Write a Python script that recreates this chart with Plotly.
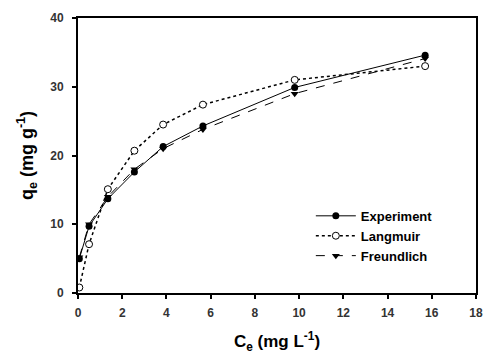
import plotly.graph_objects as go

# Equilibrium concentration (mg/L) and adsorption capacity (mg/g)
ce = [0.06, 0.5, 1.35, 2.55, 3.85, 5.65, 9.8, 15.7]
q_experiment = [5.0, 9.7, 13.7, 17.6, 21.3, 24.3, 29.9, 34.6]
q_langmuir = [0.8, 7.1, 15.1, 20.7, 24.5, 27.4, 31.0, 33.0]
q_freundlich = [5.2, 10.0, 14.0, 18.0, 21.0, 23.8, 29.0, 34.1]

x_ticks = [0, 2, 4, 6, 8, 10, 12, 14, 16, 18]
y_ticks = [0, 10, 20, 30, 40]

font_family = "Liberation Sans, Arial, sans-serif"

fig = go.Figure()
fig.add_trace(go.Scatter(
    x=ce, y=q_experiment, name="<b>Experiment</b>", mode="lines+markers",
    line=dict(color="black", width=1, dash="solid"),
    marker=dict(symbol="circle", size=7, color="black"),
))
fig.add_trace(go.Scatter(
    x=ce, y=q_langmuir, name="<b>Langmuir</b>", mode="lines+markers",
    line=dict(color="black", width=1.5, dash="dot"),
    marker=dict(symbol="circle", size=7, color="white",
                line=dict(width=1, color="black")),
))
fig.add_trace(go.Scatter(
    x=ce, y=q_freundlich, name="<b>Freundlich</b>", mode="lines+markers",
    line=dict(color="black", width=1, dash="dash"),
    marker=dict(symbol="triangle-down", size=7, color="black"),
))

axis_common = dict(
    showgrid=False, zeroline=False, showline=True, linecolor="black",
    linewidth=2, mirror=True, ticks="outside", tickcolor="black",
    ticklen=4, tickwidth=1.5,
    tickfont=dict(family=font_family, size=12, color="#333333"),
)

fig.update_xaxes(
    range=[0, 18], tickvals=x_ticks,
    ticktext=[f"<b>{v}</b>" for v in x_ticks],
    ticklabelstandoff=4,
    title=dict(text="<b>C<sub>e</sub> (mg L<sup>-1</sup>)</b>",
               font=dict(family=font_family, size=17, color="black"),
               standoff=16),
    **axis_common,
)
fig.update_yaxes(
    range=[0, 40], tickvals=y_ticks,
    ticktext=[f"<b>{v}</b>" for v in y_ticks],
    ticklabelstandoff=6,
    title=dict(text="<b>q<sub>e</sub> (mg g<sup>-1</sup>)</b>",
               font=dict(family=font_family, size=18, color="black"),
               standoff=12),
    **axis_common,
)

fig.update_layout(
    width=494, height=361,
    margin=dict(l=78, r=11, t=13, b=68),
    paper_bgcolor="white", plot_bgcolor="white",
    showlegend=True,
    legend=dict(
        x=0.585, y=0.335, xanchor="left", yanchor="top",
        bgcolor="rgba(0,0,0,0)",
        font=dict(family=font_family, size=13, color="black"),
        itemwidth=40, tracegroupgap=0,
    ),
)

fig.write_html("out.html")
